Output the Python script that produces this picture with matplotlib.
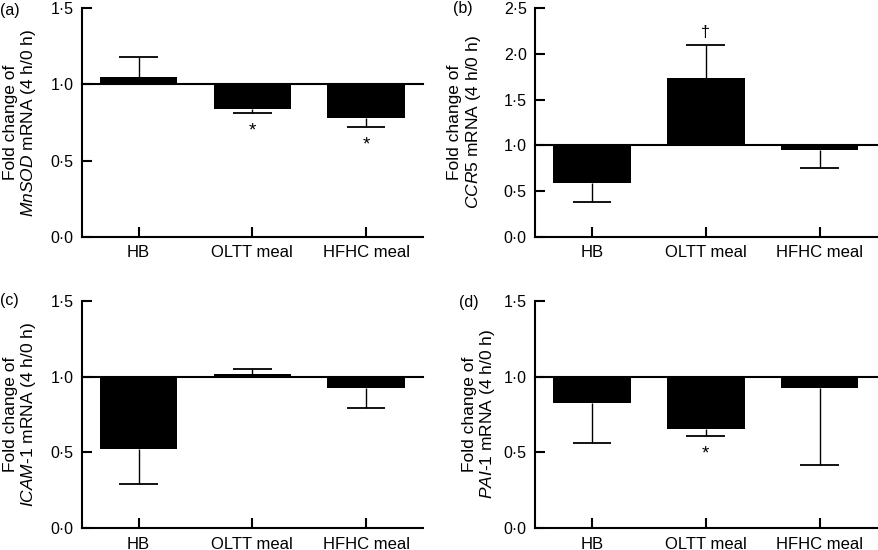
import numpy as np
import matplotlib
matplotlib.use("Agg")
import matplotlib.pyplot as plt
from matplotlib.ticker import FuncFormatter

plt.rcParams['font.family'] = ['Liberation Sans', 'DejaVu Sans']
plt.rcParams['mathtext.fontset'] = 'custom'
plt.rcParams['mathtext.it'] = 'Liberation Sans:italic'
plt.rcParams['mathtext.rm'] = 'Liberation Sans'

# categories shared by all panels
groups = ['HB', 'OLTT meal', 'HFHC meal']

# fold change (4 h/0 h), bars start at 1.0, error drawn away from 1.0
mnsod_mean = [1.047, 0.840, 0.777]
mnsod_err = [0.131, 0.028, 0.057]
mnsod_sig = ['', '*', '*']

ccr5_mean = [0.593, 1.739, 0.944]
ccr5_err = [0.209, 0.358, 0.187]
ccr5_sig = ['', '\u2020', '']

icam_mean = [0.520, 1.014, 0.922]
icam_err = [0.228, 0.033, 0.132]
icam_sig = ['', '', '']

pai_mean = [0.827, 0.656, 0.922]
pai_err = [0.263, 0.048, 0.502]
pai_sig = ['', '*', '']

FS = 11.5
FS_X = 12
FS_LAB = 12.5


def dot_fmt(v, pos):
    return '{:.1f}'.format(v).replace('.', '\u00b7')


def draw_panel(ax, means, errs, sigs, gene, ymax, label_x):
    x = np.arange(len(groups))
    means = np.array(means)
    errs = np.array(errs)
    heights = means - 1.0
    ax.bar(x, heights, bottom=1.0, width=0.68, color='black', linewidth=0, zorder=2)

    # one-sided error bars pointing away from the baseline (cap only at the far end)
    ends = np.where(heights >= 0, means + errs, means - errs)
    ax.vlines(x, means, ends, color='black', lw=1.0, zorder=1)
    ax.hlines(ends, x - 0.17, x + 0.17, color='black', lw=1.3, zorder=1)

    ax.axhline(1.0, color='black', lw=1.5, zorder=3, clip_on=False)

    for xi, m, e, s in zip(x, means, ends, sigs):
        if not s:
            continue
        if m >= 1.0:
            ax.annotate(s, (xi, e), xytext=(0, 4), textcoords='offset points',
                        ha='center', va='bottom', fontsize=FS)
        else:
            ax.annotate(s, (xi, e), xytext=(0, -7), textcoords='offset points',
                        ha='center', va='top', fontsize=FS + 2)

    ax.set_xlim(-0.5, 2.5)
    ax.set_ylim(0, ymax)
    ax.set_yticks(np.arange(0, ymax + 0.01, 0.5))
    ax.yaxis.set_major_formatter(FuncFormatter(dot_fmt))
    ax.set_xticks(x)
    ax.set_xticklabels(groups)
    ax.tick_params(direction='in', length=7, width=1.5, colors='black')
    ax.tick_params(axis='y', pad=6, labelsize=FS)
    ax.tick_params(axis='x', pad=6, labelsize=FS_X)
    for side in ['top', 'right']:
        ax.spines[side].set_visible(False)
    for side in ['left', 'bottom']:
        ax.spines[side].set_linewidth(1.5)

    ax.set_ylabel('Fold change of\n' + gene + ' mRNA (4 h/0 h)', fontsize=FS_LAB,
                  multialignment='center', linespacing=1.1)
    ax.yaxis.set_label_coords(label_x, 0.5)
    return ax


fig = plt.figure(figsize=(8.79, 5.5), dpi=100)
ax_a = fig.add_axes([0.0929, 0.5696, 0.3883, 0.4153])
ax_b = fig.add_axes([0.6086, 0.5696, 0.3887, 0.4153])
ax_c = fig.add_axes([0.0929, 0.0395, 0.3883, 0.4138])
ax_d = fig.add_axes([0.6086, 0.0395, 0.3887, 0.4138])

draw_panel(ax_a, mnsod_mean, mnsod_err, mnsod_sig, r'$\it{MnSOD}$', 1.5, -0.128)
draw_panel(ax_b, ccr5_mean, ccr5_err, ccr5_sig, r'$\it{CCR5}$', 2.5, -0.153)
draw_panel(ax_c, icam_mean, icam_err, icam_sig, r'$\it{ICAM}$-$\it{1}$', 1.5, -0.127)
draw_panel(ax_d, pai_mean, pai_err, pai_sig, r'$\it{PAI}$-$\it{1}$', 1.5, -0.11)

fig.text(0.0, 1 - 10 / 550, '(a)', fontsize=FS, va='center', ha='left')
fig.text(453 / 879, 1 - 9 / 550, '(b)', fontsize=FS, va='center', ha='left')
fig.text(0.0, 1 - 301 / 550, '(c)', fontsize=FS, va='center', ha='left')
fig.text(459 / 879, 1 - 302 / 550, '(d)', fontsize=FS, va='center', ha='left')

fig.savefig('out.png', dpi=100)
